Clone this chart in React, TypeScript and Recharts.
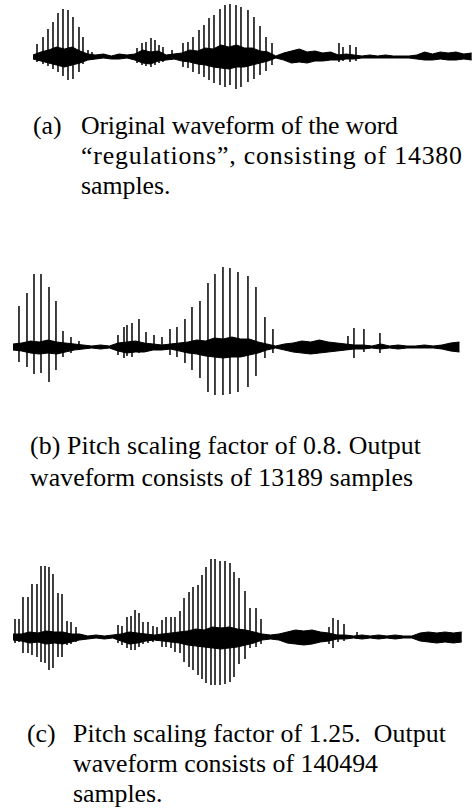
import React from "react";
import { ComposedChart, Area, Line, XAxis, YAxis } from "recharts";

// envelope values are given per 256-sample frame, spike values at sample index
const FRAME = 256;

// (a) original, 14380 samples
const aTotal = 14380;
const aEnvHi = [40,100,140,200,160,200,120,60,40,60, 20,60,40,60,140,100,120,40,60,80, 140,120,180,160,240,200,240,180,180,120, 100,20,80,120,160,100,120,80,100,40, 60,40,20,40,20,40,20,20,20,40, 100,60,100,80,100,60,80];
const aEnvLo = [-40,-80,-120,-160,-200,-160,-120,-60,-40,-20, -40,-40,-20,-60,-120,-140,-80,-60,-40,-80, -100,-140,-160,-200,-220,-240,-200,-200,-160,-120, -80,-20,-60,-120,-100,-120,-80,-80,-60,-60, -40,-40,-20,-20,-20,-20,-20,-20,-20,-40, -60,-60,-40,-60,-60,-40,-60];
const aSpikeT = [131,327,490,654,817,980,1144,1307,1503,1634,1797,1928, 3399,3562,3693,3856,3987,4118,4248,4543, 4902,5065,5229,5425,5588,5752,5915,6111,6275,6438,6634,6797,7026,7222,7419,7615,7811, 10000,10131,10360,10556];
const aSpikeHi = [260,400,560,700,880,960,940,800,600,400,140,100, 180,280,300,380,340,240,200,140, 280,300,400,540,640,780,840,960,1040,1060,1040,1000,940,800,620,400,280, 280,200,240,200];
const aSpikeLo = [-100,-140,-180,-240,-300,-380,-460,-440,-300,-140,-60,-40, -120,-160,-180,-200,-160,-120,-100,-60, -200,-220,-300,-340,-400,-460,-520,-560,-600,-560,-640,-600,-500,-440,-360,-280,-160, -100,-80,-100,-80];

// (b) pitch factor 0.8, 13189 samples
const bTotal = 13189;
const bEnvHi = [60,80,120,100,140,100,80,60,40,20, 40,20,80,100,120,80,60,40,60,80, 100,140,120,180,160,200,160,160,100,60, 20,60,80,120,100,140,100,80,60,40, 40,20,60,20,40,20,20,40,20,40, 80,100];
const bEnvLo = [-60,-80,-120,-140,-120,-140,-100,-60,-40,-20, -40,-20,-80,-120,-100,-100,-60,-60,-40,-80, -120,-140,-180,-200,-220,-200,-200,-160,-120,-60, -20,-60,-100,-120,-140,-120,-100,-80,-60,-40, -40,-20,-40,-20,-40,-20,-20,-20,-20,-40, -80,-100];
const bSpikeT = [175,409,614,819,1053,1257,1462,1696, 1930, 3070,3246,3333,3480,3684,3889,4123,4357, 4591,4795,5029,5234,5468,5702,5906,6140,6345,6579,6871,7105,7368,7602, 9795,9971,10263,10731];
const bSpikeHi = [820,1080,1460,1460,1200,920,320,200, 120, 240,400,440,480,560,300,240,200, 360,400,560,800,920,1280,1460,1600,1580,1500,1420,1200,600,360, 220,380,360,280];
const bSpikeLo = [-300,-400,-540,-520,-700,-460,-200,-120, -60, -160,-220,-180,-200,-120,-100,-60,-60, -160,-200,-320,-460,-620,-900,-960,-960,-940,-900,-800,-580,-220,-120, -60,-220,-100,-120];

// (c) pitch factor 1.25
const cTotal = 14049;
const cEnvHi = [60,60,100,80,120,100,100,60,60,20, 40,20,40,60,100,80,60,40,60,80, 100,120,160,140,200,180,200,160,140,100, 60,40,60,100,140,120,140,100,80,40, 40,20,40,20,40,20,40,20,20,80, 100,80,100,80,100];
const cEnvLo = [-60,-80,-120,-100,-140,-120,-140,-100,-60,-40, -20,-40,-20,-80,-140,-120,-80,-60,-80,-100, -120,-160,-180,-200,-220,-240,-220,-200,-160,-120, -60,-40,-60,-120,-140,-160,-140,-100,-80,-40, -40,-20,-40,-20,-40,-20,-40,-20,-20,-80, -100,-120,-100,-120,-100];
const cSpikeT = [62,185,308,462,585,739,863,986,1109,1232,1386,1510,1664,1787,1941, 3235,3358,3512,3636,3759,3882,4005,4159,4313,4437, 4591,4714,4868,4991,5145,5269,5423,5546,5700,5823,5946,6100,6224,6378,6532,6686,6809,6963,7148,7302,7487,7641, 9736,9859,10013,10198,10599];
const cSpikeHi = [360,360,800,800,1060,1060,1420,1420,1400,1260,880,860,320,300,200, 240,220,400,420,540,480,300,300,220,200, 340,400,400,400,520,780,900,1000,1040,1240,1400,1560,1560,1520,1520,1480,1300,1180,920,580,580,360, 200,380,340,260,100];
const cSpikeLo = [-120,-100,-320,-320,-360,-400,-500,-520,-660,-620,-400,-400,-160,-140,-100, -120,-160,-220,-260,-260,-200,-140,-120,-100,-80, -200,-200,-220,-300,-320,-500,-600,-660,-760,-840,-920,-960,-960,-960,-940,-900,-800,-540,-440,-220,-200,-140, -140,-220,-100,-80,-40];

const SERIF = '"Liberation Serif", "Times New Roman", serif';

interface WaveProps {
  total: number;
  envHi: number[];
  envLo: number[];
  spikeT: number[];
  spikeHi: number[];
  spikeLo: number[];
  width: number;
  height: number;
  yDomain: [number, number];
}

function Waveform({ total, envHi, envLo, spikeT, spikeHi, spikeLo, width, height, yDomain }: WaveProps) {
  const env = envHi.map((h, i) => ({ t: Math.min(i * FRAME, total), band: [envLo[i], h] }));
  const trace = spikeT.flatMap((t, i) => [
    { t, v: 0 },
    { t, v: spikeHi[i] },
    { t, v: spikeLo[i] },
    { t, v: 0 },
  ]);

  return (
    <ComposedChart width={width} height={height} margin={{ top: 0, right: 0, bottom: 0, left: 0 }}>
      <XAxis type="number" dataKey="t" domain={[0, total]} hide allowDataOverflow />
      <YAxis type="number" domain={yDomain} hide allowDataOverflow />
      <Area
        data={env}
        dataKey="band"
        type="linear"
        fill="#000"
        fillOpacity={1}
        stroke="#000"
        strokeWidth={1}
        isAnimationActive={false}
      />
      <Line
        data={trace}
        dataKey="v"
        type="linear"
        dot={false}
        stroke="#000"
        strokeWidth={1}
        isAnimationActive={false}
      />
    </ComposedChart>
  );
}

export default function App() {
  const txt = { fontFamily: SERIF, fontSize: 25.8, fill: "#000", lengthAdjust: "spacing" };

  return (
    <div style={{ position: "absolute", left: 0, top: 0, width: 473, height: 810, background: "#fff" }}>
      <div style={{ position: "absolute", left: 33, top: 0 }}>
        <Waveform total={aTotal} envHi={aEnvHi} envLo={aEnvLo} spikeT={aSpikeT} spikeHi={aSpikeHi}
          spikeLo={aSpikeLo} width={440} height={100} yDomain={[-860, 1140]} />
      </div>
      <div style={{ position: "absolute", left: 13, top: 260 }}>
        <Waveform total={bTotal} envHi={bEnvHi} envLo={bEnvLo} spikeT={bSpikeT} spikeHi={bSpikeHi}
          spikeLo={bSpikeLo} width={451} height={140} yDomain={[-1060, 1740]} />
      </div>
      <div style={{ position: "absolute", left: 13, top: 550 }}>
        <Waveform total={cTotal} envHi={cEnvHi} envLo={cEnvLo} spikeT={cSpikeT} spikeHi={cSpikeHi}
          spikeLo={cSpikeLo} width={456} height={140} yDomain={[-1060, 1740]} />
      </div>

      {/* captions */}
      <svg width={473} height={810} style={{ position: "absolute", left: 0, top: 0, pointerEvents: "none" }}>
        <text x={33} y={134} {...txt}>(a)</text>
        <text x={81} y={134} {...txt} textLength={317}>Original waveform of the word</text>
        <text x={81} y={164} {...txt} textLength={381}>“regulations”, consisting of 14380</text>
        <text x={81} y={194} {...txt}>samples.</text>

        <text x={30} y={454} {...txt} textLength={391}>(b) Pitch scaling factor of 0.8. Output</text>
        <text x={30} y={486} {...txt} textLength={383}>waveform consists of 13189 samples</text>

        <text x={27} y={742} {...txt}>(c)</text>
        <text x={73} y={742} {...txt} textLength={373} style={{ whiteSpace: "pre" }}>Pitch scaling factor of 1.25.  Output</text>
        <text x={73} y={772} {...txt} textLength={305}>waveform consists of 140494</text>
        <text x={73} y={802} {...txt}>samples.</text>
      </svg>
    </div>
  );
}
